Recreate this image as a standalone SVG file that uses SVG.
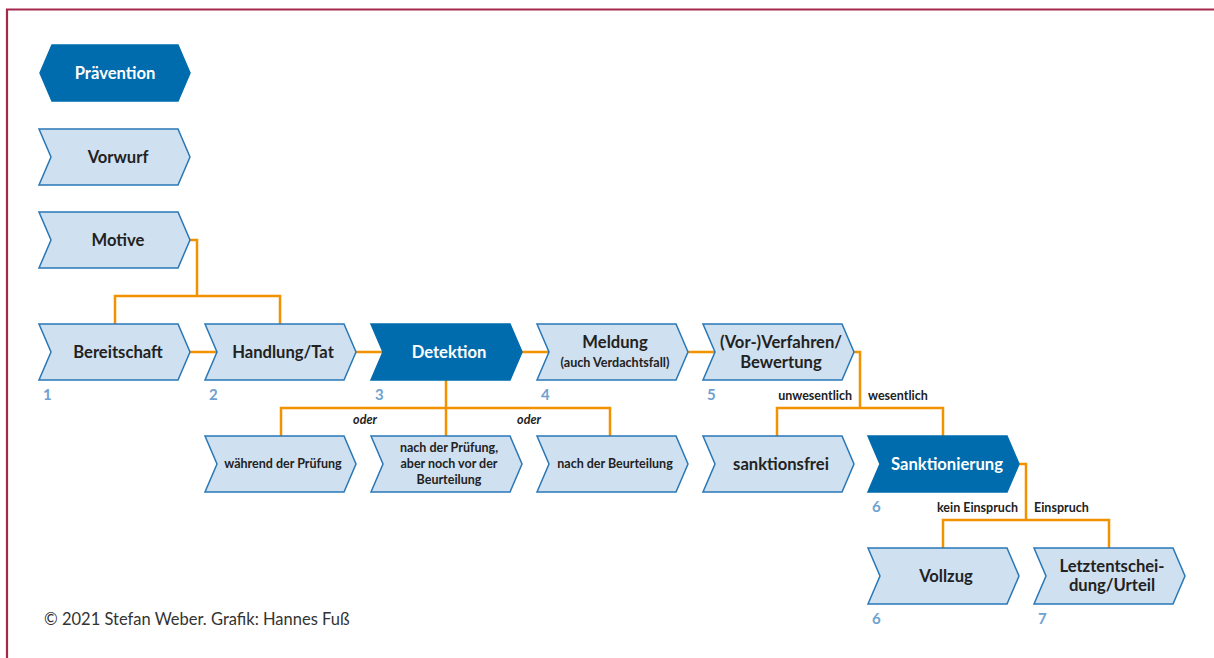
<svg xmlns="http://www.w3.org/2000/svg" width="1214" height="658" viewBox="0 0 1214 658">
<defs>
<style>
.lt{fill:#cfe0f0;stroke:#2877b6;stroke-width:1.5}
.dk{fill:#006cae;stroke:#006cae;stroke-width:1.5}
.t{font-family:Lato,"Liberation Sans",sans-serif;font-weight:700;font-size:16.6px;fill:#222;text-anchor:middle}
.tw{fill:#fff}
.s{font-size:12.5px}
.xs{font-size:12.6px}
.num{font-family:Lato,"Liberation Sans",sans-serif;font-weight:700;font-size:15px;fill:#6fa1d0}
.el{font-family:Lato,"Liberation Sans",sans-serif;font-weight:700;font-size:12.5px;fill:#222}
.it{font-style:italic}
.c{fill:none;stroke:#f39200;stroke-width:2.5}
</style>
<path id="chev" d="M0,0 H139 L151,28 L139,56 H0 L12,28 Z"/>
</defs>
<path d="M7,658 V9.5 H1214" fill="none" stroke="#a3294c" stroke-width="2.2"/>

<g id="connectors" class="c">
<path d="M190,240 H197 V296 M115,324 V296 H280 V324"/>
<path d="M190,352 H217 M356,352 H383 M522,352 H549 M688,352 H715"/>
<path d="M446,380 V436 M281,436 V408 H610 V436"/>
<path d="M853,352 H860 V408 M777,436 V408 H943 V436"/>
<path d="M1019,464 H1026 V520 M943,548 V520 H1109 V548"/>
</g>

<g id="praevention">
<path class="dk" d="M40,73 L52,45 H178 L190,73 L178,101 H52 Z"/>
<text class="t tw" x="115" y="79">Prävention</text>
</g>
<g id="vorwurf">
<use href="#chev" class="lt" x="39" y="129"/>
<text class="t" x="118" y="163">Vorwurf</text>
</g>
<g id="motive">
<use href="#chev" class="lt" x="39" y="212"/>
<text class="t" x="118" y="246">Motive</text>
</g>
<g id="bereitschaft">
<use href="#chev" class="lt" x="39" y="324"/>
<text class="t" x="118" y="358">Bereitschaft</text>
<text class="num" x="43" y="400">1</text>
</g>
<g id="handlung">
<use href="#chev" class="lt" x="205" y="324"/>
<text class="t" x="283" y="358">Handlung/Tat</text>
<text class="num" x="209" y="400">2</text>
</g>
<g id="detektion">
<use href="#chev" class="dk" x="371" y="324"/>
<text class="t tw" x="449" y="358">Detektion</text>
<text class="num" x="375" y="400">3</text>
</g>
<g id="meldung">
<use href="#chev" class="lt" x="537" y="324"/>
<text class="t" x="615" y="348">Meldung</text>
<text class="t xs" x="615" y="367">(auch Verdachtsfall)</text>
<text class="num" x="541" y="400">4</text>
</g>
<g id="verfahren">
<use href="#chev" class="lt" x="703" y="324"/>
<text class="t" x="781" y="348">(Vor-)Verfahren/</text>
<text class="t" x="781" y="368">Bewertung</text>
<text class="num" x="707" y="400">5</text>
</g>
<g id="waehrend">
<use href="#chev" class="lt" x="205" y="436"/>
<text class="t s" x="283" y="468">während der Prüfung</text>
</g>
<g id="nachpruefung">
<use href="#chev" class="lt" x="371" y="436"/>
<text class="t s" x="449" y="452">nach der Prüfung,</text>
<text class="t s" x="449" y="468">aber noch vor der</text>
<text class="t s" x="449" y="484">Beurteilung</text>
</g>
<g id="nachbeurteilung">
<use href="#chev" class="lt" x="537" y="436"/>
<text class="t s" x="615" y="468">nach der Beurteilung</text>
</g>
<g id="sanktionsfrei">
<use href="#chev" class="lt" x="703" y="436"/>
<text class="t" x="781" y="470">sanktionsfrei</text>
</g>
<g id="sanktionierung">
<use href="#chev" class="dk" x="868" y="436"/>
<text class="t tw" x="947" y="470">Sanktionierung</text>
<text class="num" x="872" y="512">6</text>
</g>
<g id="vollzug">
<use href="#chev" class="lt" x="868" y="548"/>
<text class="t" x="946" y="582">Vollzug</text>
<text class="num" x="872" y="624">6</text>
</g>
<g id="letztentscheidung">
<use href="#chev" class="lt" x="1034" y="548"/>
<text class="t" x="1112" y="572">Letztentschei-</text>
<text class="t" x="1112" y="591">dung/Urteil</text>
<text class="num" x="1038" y="624">7</text>
</g>

<g id="edge-labels">
<text class="el it" x="365" y="424" text-anchor="middle">oder</text>
<text class="el it" x="529" y="424" text-anchor="middle">oder</text>
<text class="el" x="852" y="400" text-anchor="end">unwesentlich</text>
<text class="el" x="868" y="400">wesentlich</text>
<text class="el" x="1018" y="512" text-anchor="end">kein Einspruch</text>
<text class="el" x="1034" y="512">Einspruch</text>
</g>

<text x="44" y="625" font-family="Lato,'Liberation Sans',sans-serif" font-size="16.5" fill="#333">© 2021 Stefan Weber. Grafik: Hannes Fuß</text>
</svg>
